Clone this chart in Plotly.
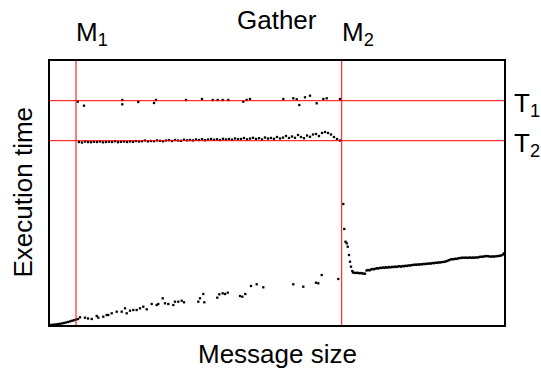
import plotly.graph_objects as go

# Reference levels (arbitrary units)
M1 = 26
M2 = 291.7
T1 = 224.3
T2 = 184.3
X_MAX = 454
Y_MAX = 264

# Upper cluster near T1
t1_x = [27.7, 34, 72.3, 72.3, 88.3, 104, 106, 136, 152, 162.7, 167.7, 172.7, 178.3,
        193.3, 196.7, 200, 233.3, 243.3, 246.7, 249.3, 255, 260, 266.7, 273.3, 276.7, 290]
t1_y = [223.3, 219.3, 220.7, 225, 223, 222, 225, 225, 226, 225, 225, 225, 225,
        223.3, 225, 226, 226, 226.7, 225.7, 220, 227.7, 229.3, 221.7, 226, 226.7, 226]

# Dense band near T2
t2_x = list(range(29, 291, 3))
t2_y = [183, 182.5, 183.5, 183, 182.8, 183.2, 183, 183.5, 182.7, 183,
        183.3, 183, 183.8, 182.8, 183.2, 183.5, 183, 183.6, 183.2, 184,
        183.5, 183.8, 184.5, 183.6, 184, 183.8, 184.6, 184.2, 183.7, 184.5,
        184.8, 184, 185, 184.5, 184.2, 185.3, 184.7, 185, 184.6, 185.5,
        185, 185.8, 184.8, 185.4, 186, 185.2, 185.7, 185, 186.2, 185.5,
        186, 185.3, 186.5, 185.8, 186, 187, 185.6, 186.4, 187.2, 186,
        186.8, 185.5, 187.5, 186.4, 187, 186.2, 188, 186.5, 187.4, 189,
        187, 188.5, 187.2, 190, 188, 186.8, 189.5, 188.2, 190.5, 191,
        189, 192, 193, 192, 190.5, 188, 186, 184.5]

# Lower series (small messages)
low_x = [0, 2, 4, 6, 8, 10, 12, 14, 16, 18, 20, 22, 24, 26, 28,
         30, 35, 38, 41.7, 46.7, 48.3, 53.3, 56.7, 58.3, 61.7, 66.7, 71.7, 75, 76.7, 80,
         83.3, 86.7, 90, 93.3, 96.7, 101.7, 106.7, 108.3, 112.7, 115, 118.3, 123.3, 125,
         128.3, 131.7, 134, 148.3, 150, 153.3, 154.3, 167.3, 169.3, 172.7, 175, 177.7,
         190, 192.3, 195.3, 201, 206.7, 213.3, 243.3, 253.3, 266, 268.3, 271.7, 288.3]
low_y = [0, 0.2, 0.4, 0.6, 0.9, 1.2, 1.6, 2, 2.5, 3, 3.6, 4.2, 4.8, 5.4, 6,
         7.7, 7.3, 6.5, 6, 9, 7.3, 8.3, 10, 10, 11.7, 13.3, 13.3, 16.7, 11.7, 14.3,
         15, 15, 16.7, 18.3, 15.7, 21, 20, 21, 26.7, 21.7, 21, 20, 23.3,
         23.3, 24.3, 22.7, 23.3, 26.7, 31, 22.7, 27.3, 30.7, 31.7, 31, 32.3,
         29, 28.3, 31, 39, 40.7, 37.7, 40.7, 38.3, 42.3, 41.7, 50, 46]

# Transition spike just after M2
spike_x = [293.3, 294.3, 295.5, 296.7, 297.7, 299, 300, 301, 302.3]
spike_y = [121, 96, 83.3, 81.7, 78.3, 70, 63.3, 58.3, 54]

# Large messages (sampled every 1.5 units)
high_x = [303 + 1.5 * i for i in range(101)] + [454]
high_y = [52.5, 52.2, 52, 52.3, 51.8, 52, 51.6, 51.5, 51.2, 54.5,
          55, 54.6, 55.5, 56, 55.7, 56.3, 56.8, 56.5, 57.2, 57,
          57.5, 57.2, 57.8, 57.4, 58, 57.6, 58.2, 57.9, 58.4, 58.1,
          58.5, 58.8, 58.3, 59, 58.7, 59.3, 59, 59.6, 59.4, 59.9,
          60, 60.4, 60.1, 60.6, 60.3, 60.8, 60.6, 61.1, 60.9, 61.3,
          61.2, 61.6, 61.4, 62, 61.8, 62.3, 62.1, 62.6, 62.5, 62.9,
          63, 63.2, 63.6, 64.2, 64.8, 65.5, 65.9, 65.7, 66.2, 66.1,
          66.6, 66.9, 67.1, 67.3, 67.2, 67.4, 67.1, 67.3, 67.5, 67.2,
          67.4, 67.3, 67.6, 67.5, 67.9, 68.3, 68.1, 68.5, 68.7, 69,
          68.8, 68.5, 68.3, 68.6, 68.4, 68.7, 68.9, 69, 69.3, 69.6,
          70.5, 71.7]

FONT = "Liberation Sans, Arial, sans-serif"
fig = go.Figure()

for xv in [M1, M2]:
    fig.add_shape(type="line", xref="x", yref="paper", x0=xv, x1=xv, y0=0, y1=1,
                  line=dict(color="#ff0000", width=1), layer="above")
for yv in [T1, T2]:
    fig.add_shape(type="line", xref="paper", yref="y", x0=0, x1=1, y0=yv, y1=yv,
                  line=dict(color="#ff0000", width=1), layer="above")

for xs, ys in [(t1_x, t1_y), (t2_x, t2_y), (low_x, low_y), (spike_x, spike_y), (high_x, high_y)]:
    fig.add_trace(go.Scatter(x=xs, y=ys, mode="markers",
                             marker=dict(symbol="square", size=2.3, color="black",
                                         line=dict(width=0)),
                             showlegend=False, hoverinfo="skip", cliponaxis=False))

ann = dict(showarrow=False, font=dict(family=FONT, size=26, color="black"))
fig.add_annotation(text="Gather", xref="paper", yref="paper", x=0.501, y=1.0,
                   xanchor="center", yanchor="middle", yshift=41, **ann)
fig.add_annotation(text="M<sub>1</sub>", xref="x", yref="paper", x=M1, y=1.0,
                   xanchor="left", yanchor="middle", xshift=-2, yshift=28, **ann)
fig.add_annotation(text="M<sub>2</sub>", xref="x", yref="paper", x=M2, y=1.0,
                   xanchor="left", yanchor="middle", xshift=-2, yshift=28, **ann)
fig.add_annotation(text="T<sub>1</sub>", xref="paper", yref="y", x=1.0, y=T1,
                   xanchor="left", yanchor="middle", xshift=8, yshift=-4, **ann)
fig.add_annotation(text="T<sub>2</sub>", xref="paper", yref="y", x=1.0, y=T2,
                   xanchor="left", yanchor="middle", xshift=8, yshift=-4, **ann)
fig.add_annotation(text="Message size", xref="paper", yref="paper", x=0.501, y=0.0,
                   xanchor="center", yanchor="middle", yshift=-29, **ann)
fig.add_annotation(text="Execution time", xref="paper", yref="paper", x=0.0, y=0.502,
                   textangle=-90, xanchor="center", yanchor="middle", xshift=-27, **ann)

fig.update_layout(
    width=541, height=370,
    margin=dict(l=50, r=37, t=61, b=45),
    paper_bgcolor="white", plot_bgcolor="white",
    font=dict(family=FONT, size=26, color="black"),
    xaxis=dict(range=[0, X_MAX], showgrid=False, zeroline=False, showticklabels=False,
               ticks="", showline=True, mirror=True, linecolor="black", linewidth=2),
    yaxis=dict(range=[0, Y_MAX], showgrid=False, zeroline=False, showticklabels=False,
               ticks="", showline=True, mirror=True, linecolor="black", linewidth=2),
)

fig.write_html("out.html")
